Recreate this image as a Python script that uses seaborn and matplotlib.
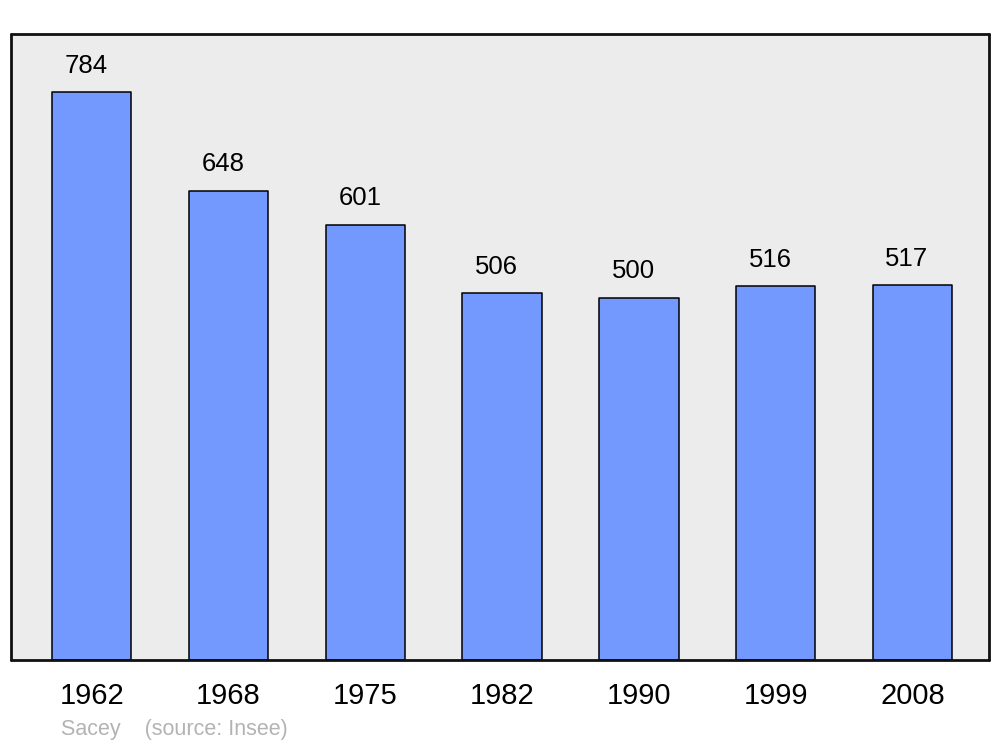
import matplotlib
matplotlib.use("Agg")
import matplotlib.pyplot as plt
import seaborn as sns
import pandas as pd

years = ["1962", "1968", "1975", "1982", "1990", "1999", "2008"]
population = [784, 648, 601, 506, 500, 516, 517]
source_text = "Sacey    (source: Insee)"

sns.set_style("white")
plt.rcParams["font.family"] = ["Liberation Sans", "DejaVu Sans"]

df = pd.DataFrame({"year": years, "pop": population})

fig = plt.figure(figsize=(10, 7.47), dpi=100)
ax = fig.add_axes([0.011, 1 - 660 / 747, 0.978, 626 / 747])
ax.set_facecolor("#ececec")

sns.barplot(data=df, x="year", y="pop", order=years, color="#7399ff",
            saturation=1, width=0.58, edgecolor="black", linewidth=1.1, ax=ax)
for p in ax.patches:
    p.set_joinstyle("round")

for i, v in enumerate(population):
    ax.annotate(str(v), (i - 0.04, v), xytext=(0, 19), textcoords="offset points",
                ha="center", va="center", fontsize=18.5, color="black")

ax.set_xlim(-0.59, 6.56)
ax.set_ylim(0, 864)
ax.set_yticks([])
ax.set_xlabel("")
ax.set_ylabel("")
ax.tick_params(axis="x", length=0, pad=16, labelsize=21, colors="black")
for s in ax.spines.values():
    s.set_visible(True)
    s.set_color("#111111")
    s.set_linewidth(2.0)
    s.set_capstyle("round")
    s.set_joinstyle("round")

fig.text(0.061, 1 - 730 / 747, source_text, fontsize=15.5, color="#b3b3b3",
         ha="left", va="center")

fig.savefig("out.png", dpi=100, facecolor="white")
